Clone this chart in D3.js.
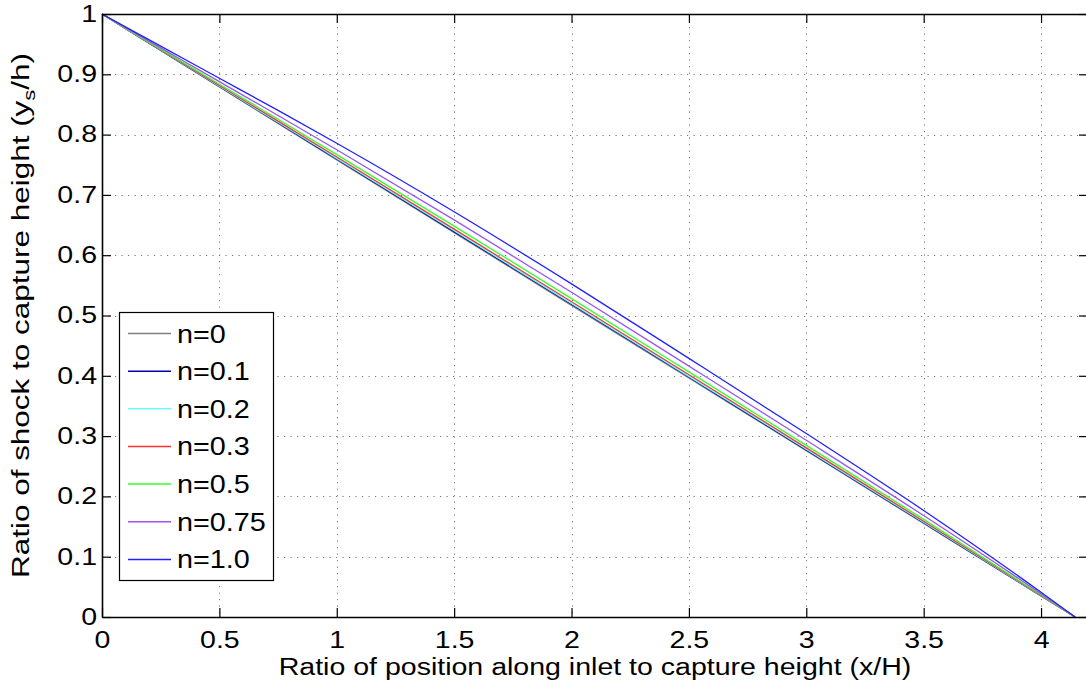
<!DOCTYPE html>
<html><head><meta charset="utf-8">
<script src="https://cdn.jsdelivr.net/npm/d3@7"></script>
<style>
body{margin:0;background:#fff}
text{font-family:"Liberation Sans",Arial,Helvetica,sans-serif;fill:#000}
</style>
</head><body>
<svg id="chart" width="1086" height="687"></svg>
<script>
// ---- data ----
const xValues = [0, 0.25, 0.5, 0.75, 1, 1.5, 2, 2.5, 3, 3.5, 4, 4.145];
const seriesNames = ["n=0", "n=0.1", "n=0.2", "n=0.3", "n=0.5", "n=0.75", "n=1.0"];
const yN000 = [1, 0.9395, 0.8790, 0.8186, 0.7581, 0.6374, 0.5168, 0.3963, 0.2758, 0.1551, 0.0347, 0];
const yN010 = [1, 0.9399, 0.8798, 0.8197, 0.7595, 0.6391, 0.5186, 0.3979, 0.2770, 0.1562, 0.0352, 0];
const yN020 = [1, 0.9402, 0.8804, 0.8206, 0.7606, 0.6405, 0.5200, 0.3991, 0.2782, 0.1571, 0.0354, 0];
const yN030 = [1, 0.9408, 0.8815, 0.8223, 0.7628, 0.6432, 0.5228, 0.4017, 0.2804, 0.1588, 0.0359, 0];
const yN050 = [1, 0.9418, 0.8836, 0.8254, 0.7668, 0.6483, 0.5280, 0.4065, 0.2846, 0.1619, 0.0368, 0];
const yN075 = [1, 0.9439, 0.8878, 0.8317, 0.7749, 0.6585, 0.5385, 0.4161, 0.2930, 0.1682, 0.0386, 0];
const yN100 = [1, 0.9467, 0.8934, 0.8401, 0.7857, 0.6721, 0.5525, 0.4289, 0.3042, 0.1766, 0.0410, 0];
const xTicks = [0, 0.5, 1, 1.5, 2, 2.5, 3, 3.5, 4];
const yTicks = [0, 0.1, 0.2, 0.3, 0.4, 0.5, 0.6, 0.7, 0.8, 0.9, 1];
const xTitle = "Ratio of position along inlet to capture height (x/H)";

// ---- styling / layout ----
const seriesValues = [yN000, yN010, yN020, yN030, yN050, yN075, yN100];
const colors = ["#808080", "#0000a8", "#66ffff", "#ff3030", "#30ff30", "#9a55ee", "#2222ff"];
const svg = d3.select("#chart");
const L = 102, R = 1088, T = 14, B = 617;
const x = d3.scaleLinear().domain([0, 4.2]).range([L, R]);
const y = d3.scaleLinear().domain([0, 1]).range([B, T]);
const fmt = d3.format("~g");
const STRETCH = 1.24;

function stretch(sel, f) {
  sel.each(function () {
    const len = this.getComputedTextLength();
    d3.select(this).attr("textLength", len * f).attr("lengthAdjust", "spacingAndGlyphs");
  });
}

// grid
const grid = svg.append("g").attr("stroke", "#7a7a7a").attr("stroke-width", 1)
  .attr("stroke-dasharray", "1.2,5.3");
grid.selectAll("line.v").data(xTicks.filter(d => d > 0)).join("line")
  .attr("x1", d => Math.round(x(d)) + 0.5).attr("x2", d => Math.round(x(d)) + 0.5)
  .attr("y1", T).attr("y2", B);
grid.selectAll("line.h").data(yTicks.filter(d => d > 0 && d < 1)).join("line")
  .attr("y1", d => Math.round(y(d)) + 0.5).attr("y2", d => Math.round(y(d)) + 0.5)
  .attr("x1", L).attr("x2", R);

// series lines
const line = d3.line().x((d, i) => x(xValues[i])).y(d => y(d)).curve(d3.curveMonotoneX);
svg.append("g").selectAll("path").data(seriesValues).join("path")
  .attr("d", d => line(d)).attr("fill", "none")
  .attr("stroke", (d, i) => colors[i]).attr("stroke-width", 1.3);

// axes
const axB = svg.append("g").attr("transform", `translate(0,${B})`)
  .call(d3.axisBottom(x).tickValues(xTicks).tickFormat(fmt).tickSize(-9).tickSizeOuter(0).tickPadding(15));
const axT = svg.append("g").attr("transform", `translate(0,${T})`)
  .call(d3.axisTop(x).tickValues(xTicks).tickFormat("").tickSize(-9).tickSizeOuter(0));
const axL = svg.append("g").attr("transform", `translate(${L},0)`)
  .call(d3.axisLeft(y).tickValues(yTicks).tickFormat(fmt).tickSize(-9).tickSizeOuter(0).tickPadding(5));
const axR = svg.append("g").attr("transform", `translate(${R},0)`)
  .call(d3.axisRight(y).tickValues(yTicks).tickFormat("").tickSize(-9).tickSizeOuter(0));
[axB, axT, axL, axR].forEach(g => {
  g.select(".domain").attr("stroke", "#000").attr("stroke-width", 1.6);
  g.selectAll(".tick line").attr("stroke", "#000").attr("stroke-width", 1.2);
  g.selectAll("text").attr("font-size", 23).attr("fill", "#000")
    .attr("font-family", '"Liberation Sans",Arial,Helvetica,sans-serif');
});
stretch(axB.selectAll("text"), STRETCH);
stretch(axL.selectAll("text"), STRETCH);

// axis titles
const xt = svg.append("text").attr("x", (L + R) / 2).attr("y", 675)
  .attr("text-anchor", "middle").attr("font-size", 23).text(xTitle);
stretch(xt, STRETCH);

const yt = svg.append("text").attr("transform", `translate(29,${(T + B) / 2}) rotate(-90)`)
  .attr("text-anchor", "middle").attr("font-size", 23);
yt.append("tspan").text("Ratio of shock to capture height (y");
yt.append("tspan").attr("font-size", 16).attr("dy", 6).text("s");
yt.append("tspan").attr("dy", -6).text("/h)");
yt.attr("textLength", 525).attr("lengthAdjust", "spacingAndGlyphs");

// legend
const lg = svg.append("g");
lg.append("rect").attr("x", 119.5).attr("y", 312.5).attr("width", 154).attr("height", 268)
  .attr("fill", "#fff").attr("stroke", "#000").attr("stroke-width", 1.2);
const rows = lg.selectAll("g.row").data(seriesNames).join("g")
  .attr("transform", (d, i) => `translate(0,${333.5 + i * 37.65})`);
rows.append("line").attr("x1", 128).attr("x2", 171).attr("y1", 0).attr("y2", 0)
  .attr("stroke", (d, i) => colors[i]).attr("stroke-width", 1.5);
const lt = rows.append("text").attr("x", 177).attr("y", 0).attr("dy", "0.36em")
  .attr("font-size", 25).text(d => d);
stretch(lt, 1.15);
</script>
</body></html>
